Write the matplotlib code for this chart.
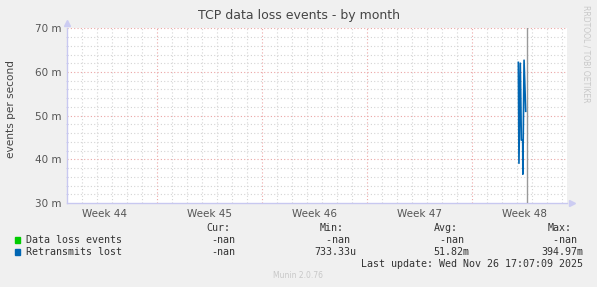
import numpy as np
import matplotlib
matplotlib.use("Agg")
import matplotlib.pyplot as plt
from matplotlib.ticker import FixedLocator, MultipleLocator, FuncFormatter

# data (x in days from the left edge of the plot, y in events/s)
retrans_days = [30.11, 30.15, 30.24, 30.31, 30.40, 30.41, 30.49, 30.60]
retrans_vals = [0.0622, 0.0391, 0.0620, 0.0444, 0.0444, 0.0366, 0.0627, 0.0510]
week_pos = [2.5, 9.5, 16.5, 23.5, 30.5]
week_labels = ["Week 44", "Week 45", "Week 46", "Week 47", "Week 48"]
week_lines = [6, 13, 20, 27]
now_day = 30.71

legend_names = ["Data loss events", "Retransmits lost"]
legend_colors = ["#00CC00", "#0066B3"]
cur_vals = ["-nan", "-nan"]
min_vals = ["-nan", "733.33u"]
avg_vals = ["-nan", "51.82m"]
max_vals = ["-nan", "394.97m"]

W, H = 597, 287
fig = plt.figure(figsize=(W / 100, H / 100), dpi=100, facecolor="#F0F0F0")
ax = fig.add_axes([66.7 / W, 1 - 203 / H, 500.3 / W, (203 - 28.3) / H])
ax.set_facecolor("white")

ax.set_xlim(0, 500.3 / 15)
ax.set_ylim(0.030, 0.070)

# grid
minor_c = "#D4D4D4"
major_c = "#EBA5A5"
for d in range(1, 34):
    if d not in week_lines:
        ax.axvline(d, color=minor_c, lw=0.8, ls=(0, (1, 2)), zorder=1)
for d in week_lines:
    ax.axvline(d, color=major_c, lw=0.8, ls=(0, (1, 2)), zorder=1)
for v in np.arange(0.032, 0.070, 0.002):
    if round(v * 1000) % 10:
        ax.axhline(v, color=minor_c, lw=0.8, ls=(0, (1, 2)), zorder=1)
for v in [0.040, 0.050, 0.060, 0.070]:
    ax.axhline(v, color=major_c, lw=0.8, ls=(0, (1, 2)), zorder=1)

ax.axvline(now_day, color="#999999", lw=1.0, zorder=3)
ax.plot(retrans_days, retrans_vals, color=legend_colors[1], lw=1.2, zorder=4)

# axes look
for s in ["top", "right"]:
    ax.spines[s].set_visible(False)
for s in ["left", "bottom"]:
    ax.spines[s].set_color("#C8C8F0")
    ax.spines[s].set_linewidth(1.0)
ax.plot([0], [0.0713], marker="^", color="#CCCCF2", ms=4.5, clip_on=False, zorder=5)
ax.plot([500.3 / 15 + 0.3], [0.030], marker=">", color="#CCCCF2", ms=4.5, clip_on=False, zorder=5)

ax.yaxis.set_major_locator(FixedLocator([0.030, 0.040, 0.050, 0.060, 0.070]))
ax.yaxis.set_major_formatter(FuncFormatter(lambda v, p: "%d m" % round(v * 1000)))
ax.yaxis.set_minor_locator(MultipleLocator(0.002))
ax.set_xticks(week_pos)
ax.set_xticklabels(week_labels)
ax.tick_params(axis="both", which="major", labelsize=7.5, colors="#555555", length=0, pad=4)
ax.tick_params(axis="y", which="minor", length=2, color="#C8C8F0", direction="inout")
ax.set_ylabel("events per second", fontsize=7.6, color="#444444")
ax.yaxis.set_label_coords(-50.5 / 500.3, (203 - 109) / 174.7)

fig.text(0.5, 1 - 19 / H, "TCP data loss events - by month", ha="center", va="baseline",
         fontsize=9, color="#444444")
fig.text(586 / W, 1 - 5 / H, "RRDTOOL / TOBI OETIKER", rotation=270, ha="center", va="top",
         fontsize=5.5, color="#C8C8C8")

# legend block
mono = "DejaVu Sans Mono"
fs = 7.2
tc = "#333333"
def px(x, y):
    return x / W, 1 - y / H

for lbl, x in [("Cur:", 206.8), ("Min:", 319.9), ("Avg:", 433.4), ("Max:", 547.2)]:
    fig.text(*px(x, 228.3), lbl, family=mono, fontsize=fs, color=tc, va="center")

rows_y = [240, 251.7]
for i in range(2):
    y = rows_y[i]
    fig.patches.append(plt.Rectangle(px(14.5, y + 3), 5.5 / W, 6 / H, transform=fig.transFigure,
                                     color=legend_colors[i], figure=fig))
    fig.text(*px(25.9, y), legend_names[i], family=mono, fontsize=fs, color=tc, va="center")
    fig.text(*px(235.5, y), cur_vals[i], family=mono, fontsize=fs, color=tc, va="center", ha="right")
    fig.text(*px(356.5, y), min_vals[i] if i else min_vals[i] + " ", family=mono, fontsize=fs, color=tc, va="center", ha="right")
    fig.text(*px(469.5, y), avg_vals[i] if i else avg_vals[i] + " ", family=mono, fontsize=fs, color=tc, va="center", ha="right")
    fig.text(*px(583, y), max_vals[i] if i else max_vals[i] + " ", family=mono, fontsize=fs, color=tc, va="center", ha="right")

fig.text(*px(582.6, 264), "Last update: Wed Nov 26 17:07:09 2025", family=mono, fontsize=fs,
         color=tc, va="center", ha="right")
fig.text(*px(298, 276), "Munin 2.0.76", fontsize=5.5, color="#C8C8C8", va="center", ha="center")

fig.savefig("out.png", dpi=100, facecolor=fig.get_facecolor())
